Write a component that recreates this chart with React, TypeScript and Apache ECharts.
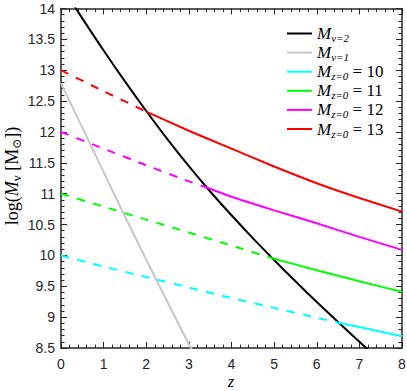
import React, { useEffect, useRef } from "react";
import * as echarts from "echarts";

// ---- data ----
const zBlack = [0, 0.5, 1, 1.5, 2, 2.5, 3, 3.5, 4, 4.5, 5, 5.5, 6, 6.5, 7, 7.5];
const mBlack = [14.375, 13.84, 13.32, 12.82, 12.34, 11.88, 11.445, 11.035, 10.65, 10.28, 9.925, 9.58, 9.245, 8.92, 8.6, 8.29];
const zGray = [0, 0.5, 1, 1.5, 2, 2.5, 3, 3.5];
const mGray = [12.79, 12.07, 11.35, 10.63, 9.93, 9.24, 8.56, 7.88];
const zGrid = [0, 1, 2, 3, 4, 5, 6, 7, 8];
const m10 = [10, 9.82, 9.65, 9.48, 9.31, 9.15, 8.99, 8.84, 8.69];
const m11 = [11, 10.79, 10.58, 10.37, 10.16, 9.95, 9.76, 9.58, 9.41];
const m12 = [12, 11.73, 11.46, 11.2, 10.95, 10.73, 10.52, 10.3, 10.09];
const m13 = [13, 12.66, 12.33, 12.02, 11.73, 11.44, 11.17, 10.93, 10.71];
// crossing points with the M_{nu=2} curve (dashed before, solid after)
const crossZ = [6.51, 4.98, 3.42, 2.0];
const crossM = [8.91, 9.95, 11.1, 12.33];
const massKeys = ["m10", "m11", "m12", "m13"];
const massLabels = ["10", "11", "12", "13"];
const massColors = ["#00ffff", "#00ff00", "#ff00ff", "#ff0000"];
const massValues = [m10, m11, m12, m13];

const AXIS_COLOR = "#262626";
const SERIF = "'Liberation Serif', 'DejaVu Serif', serif";
const SANS = "'Liberation Sans', Arial, sans-serif";

export default function App() {
  const ref = useRef<HTMLDivElement>(null);

  useEffect(() => {
    if (!ref.current) return;
    const chart = echarts.init(ref.current, undefined, { renderer: "svg" });

    const richLegend = {
      m: { fontFamily: SERIF, fontStyle: "italic", fontSize: 17, lineHeight: 20, color: "#000" },
      s: { fontFamily: SERIF, fontStyle: "italic", fontSize: 11, lineHeight: 10, verticalAlign: "bottom", color: "#000" },
      n: { fontFamily: SERIF, fontSize: 17, lineHeight: 20, color: "#000" },
    };

    const legendText: Record<string, string> = {
      nu2: "{m|M}{s|ν=2}",
      nu1: "{m|M}{s|ν=1}",
    };
    massKeys.forEach((k, i) => {
      legendText[k] = `{m|M}{s|z=0}{n| = ${massLabels[i]}}`;
    });

    const axisLineStyle = { color: AXIS_COLOR, width: 1.5 };
    const tickStyle = { color: AXIS_COLOR, width: 1 };

    const makeX = (pos: "bottom" | "top") => ({
      type: "value",
      position: pos,
      min: 0,
      max: 8,
      interval: 1,
      axisLine: { show: true, onZero: false, lineStyle: axisLineStyle },
      axisTick: { show: true, inside: true, length: 6, lineStyle: tickStyle },
      minorTick: { show: true, splitNumber: 5, length: 3.5, lineStyle: tickStyle },
      splitLine: { show: false },
      minorSplitLine: { show: false },
      axisLabel: {
        show: pos === "bottom",
        margin: 9,
        fontSize: 14,
        lineHeight: 14,
        fontFamily: SANS,
        color: AXIS_COLOR,
      },
    });
    const makeY = (pos: "left" | "right") => ({
      type: "value",
      position: pos,
      min: 8.5,
      max: 14,
      interval: 0.5,
      axisLine: { show: true, onZero: false, lineStyle: axisLineStyle },
      axisTick: { show: true, inside: true, length: 6, lineStyle: tickStyle },
      minorTick: { show: true, splitNumber: 5, length: 3.5, lineStyle: tickStyle },
      splitLine: { show: false },
      minorSplitLine: { show: false },
      axisLabel: {
        show: pos === "left",
        margin: 6,
        fontSize: 14,
        fontFamily: SANS,
        color: AXIS_COLOR,
      },
    });

    const series: any[] = [
      {
        name: "nu2",
        type: "line",
        data: zBlack.map((z, i) => [z, mBlack[i]]),
        symbol: "none",
        smooth: 0.3,
        lineStyle: { color: "#000000", width: 2 },
        itemStyle: { color: "#000000" },
        clip: true,
      },
      {
        name: "nu1",
        type: "line",
        data: zGray.map((z, i) => [z, mGray[i]]),
        symbol: "none",
        lineStyle: { color: "#c8c8c8", width: 2 },
        itemStyle: { color: "#c8c8c8" },
        clip: true,
      },
    ];

    massKeys.forEach((k, i) => {
      const vals = massValues[i];
      const zc = crossZ[i];
      const mc = crossM[i];
      const dashed: number[][] = [];
      const solid: number[][] = [[zc, mc]];
      zGrid.forEach((z, j) => {
        if (Math.abs(z - zc) < 0.1) return;
        if (z < zc) dashed.push([z, vals[j]]);
        else solid.push([z, vals[j]]);
      });
      dashed.push([zc, mc]);
      series.push({
        name: k + "_dashed",
        type: "line",
        data: dashed,
        symbol: "none",
        smooth: 0.2,
        lineStyle: { color: massColors[i], width: 2, type: [8.3, 8.3] },
        itemStyle: { color: massColors[i] },
        clip: true,
      });
      series.push({
        name: k,
        type: "line",
        data: solid,
        symbol: "none",
        smooth: 0.2,
        lineStyle: { color: massColors[i], width: 2 },
        itemStyle: { color: massColors[i] },
        clip: true,
      });
    });

    chart.setOption({
      animation: false,
      backgroundColor: "#ffffff",
      grid: { left: 61, right: 5, top: 8.5, bottom: 43, containLabel: false, outerBoundsMode: "none" },
      xAxis: [makeX("bottom"), makeX("top")],
      yAxis: [makeY("left"), makeY("right")],
      legend: {
        show: true,
        orient: "vertical",
        left: 282,
        top: 20,
        icon: "rect",
        itemWidth: 25,
        itemHeight: 2,
        itemGap: 0.6,
        selectedMode: false,
        data: ["nu2", "nu1", ...massKeys],
        formatter: (name: string) => legendText[name] || name,
        textStyle: { rich: richLegend, fontFamily: SERIF, fontSize: 17, color: "#000" },
      },
      graphic: [
        {
          type: "text",
          x: 12,
          y: 176,
          rotation: Math.PI / 2,
          style: {
            text: "{n|log(}{m|M}{s|v}{n| [M}{s|⊙}{n|])}",
            align: "center",
            verticalAlign: "middle",
            rich: {
              n: { fontFamily: SERIF, fontSize: 18, lineHeight: 22, fill: "#000" },
              m: { fontFamily: SERIF, fontStyle: "italic", fontSize: 18, lineHeight: 22, fill: "#000" },
              s: { fontFamily: SERIF, fontSize: 12, lineHeight: 11, verticalAlign: "bottom", fill: "#000" },
            },
          },
        },
        {
          type: "text",
          x: 231,
          y: 381,
          style: {
            text: "z",
            align: "center",
            verticalAlign: "middle",
            fontFamily: SERIF,
            fontStyle: "italic",
            fontSize: 16.5,
            lineHeight: 14,
            fill: "#000",
          },
        },
      ],
      series,
    });

    return () => chart.dispose();
  }, []);

  return (
    <div
      ref={ref}
      style={{ position: "fixed", left: 0, top: 0, width: 407, height: 391, background: "#fff" }}
    />
  );
}
